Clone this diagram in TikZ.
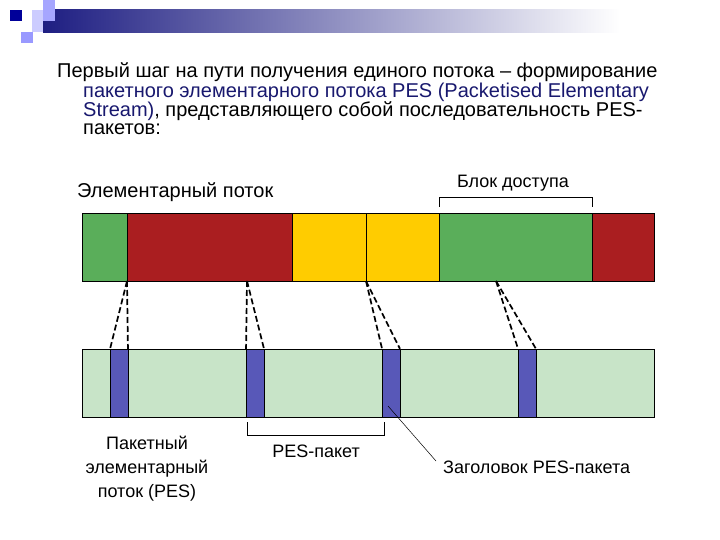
\documentclass[tikz,border=0pt]{standalone}
\usepackage{fontspec}
\setmainfont{Liberation Sans}
\definecolor{esgreen}{RGB}{90,174,90}
\definecolor{esred}{RGB}{170,30,32}
\definecolor{esyellow}{RGB}{255,204,0}
\definecolor{pesgreen}{RGB}{200,228,200}
\definecolor{hdrblue}{RGB}{88,88,184}
\definecolor{titlenavy}{RGB}{24,24,110}
\definecolor{barnavy}{RGB}{30,30,130}
\tikzset{
  intro/.style={anchor=base west, inner sep=0pt, align=left, font=\fontsize{20}{18}\selectfont},
  lbl/.style={inner sep=0pt, font=\fontsize{18}{24}\selectfont},
  hdr/.style={draw, fill=hdrblue, minimum width=17.5pt, minimum height=68pt, inner sep=0pt},
  cutline/.style={line width=1.7pt, dash pattern=on 6pt off 3pt},
}
\begin{document}
\begin{tikzpicture}[x=1pt,y=-1pt]
  \useasboundingbox (0,0) rectangle (720,540);
  \shade[left color=barnavy, right color=white] (43,10) rectangle (620,33);
  \fill[blue!20] (32,10) rectangle (43,32);
  \fill[blue!35] (43,0) rectangle (55,21);
  \fill[blue!40] (21,32) rectangle (33,43);
  \fill[blue!60!black] (10,10) rectangle (22,21);

  \node[intro] (intro) at (57,135) {Первый шаг на пути получения единого потока – формирование\\
    \hspace*{26pt}\textcolor{titlenavy}{пакетного элементарного потока PES (Packetised Elementary}\\
    \hspace*{26pt}\textcolor{titlenavy}{Stream)}, представляющего собой последовательность PES-\\
    \hspace*{26pt}пакетов:};

  \node[lbl, anchor=base west, font=\fontsize{20}{22}\selectfont] (esname) at (77,197) {Элементарный поток};
  \node[lbl, anchor=base] (aublock) at (513,188) {Блок доступа};
  \draw (439,207) -- (439,197) -- (592,197) -- (592,207);

  \foreach \a/\b/\c in {82/127/esgreen, 127/292/esred, 292/366/esyellow, 366/439/esyellow, 439/592/esgreen, 592/654/esred}
    \filldraw[fill=\c, draw=black] (\a,213) rectangle (\b,281);

  \filldraw[fill=pesgreen, draw=black] (82,349) rectangle (654,417);
  \foreach \i/\x in {1/119, 2/255, 3/391, 4/527}
    \node[hdr] (hdr\i) at (\x,383) {};

  \coordinate (cut1) at (127,281);
  \coordinate (cut2) at (247,281);
  \coordinate (cut3) at (366,281);
  \coordinate (cut4) at (496,281);
  \foreach \i in {1,...,4} {
    \draw[cutline] (cut\i) -- (hdr\i.north west);
    \draw[cutline] (cut\i) -- (hdr\i.north east);
  }

  \draw (247,422) -- (247,435) -- (384,435) -- (384,422);
  \node[lbl, anchor=base] (pespkt) at (316,457) {PES-пакет};

  \node[lbl, align=center, anchor=north] (pesname) at (147,436) {Пакетный\\элементарный\\поток (PES)};

  \node[lbl, anchor=base west] (hdrname) at (443,473) {Заголовок PES-пакета};
  \coordinate (hdrpt) at (388,406);
  \coordinate (tip) at (436,461);
  \draw[line width=0.5pt] (hdrpt) -- (tip);
\end{tikzpicture}
\end{document}
